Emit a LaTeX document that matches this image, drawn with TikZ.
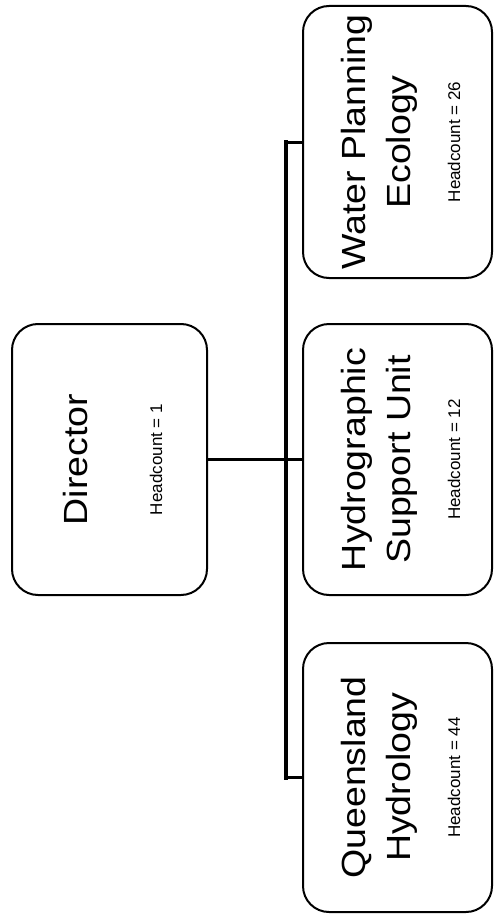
\documentclass[tikz,border=0pt]{standalone}
\usepackage{fontspec}
\setmainfont{Liberation Sans}
\usepackage{graphicx}
\newcommand{\wide}[1]{\scalebox{1.12}[1]{#1}}
\begin{document}
\begin{tikzpicture}[x=1pt,y=-1pt,
  box/.style={draw=black, line width=2pt, rounded corners=26pt, fill=white, inner sep=0pt},
  big/.style={rotate=90, anchor=base, inner sep=0pt, font=\fontsize{33.5}{40}\selectfont},
  small/.style={rotate=90, anchor=base, inner sep=0pt, font=\fontsize{17}{20}\selectfont},
  link/.style={draw=black, line width=3pt},
  spineline/.style={draw=black, line width=4pt, line cap=rect}]
\useasboundingbox (0,0) rectangle (494,915);
% boxes
\node[box, minimum width=195pt, minimum height=271pt] (dir) at (109.5,459.5) {};
\node[box, minimum width=189pt, minimum height=272pt] (wp) at (397.5,142) {};
\node[box, minimum width=189pt, minimum height=271pt] (hyd) at (397.5,459.5) {};
\node[box, minimum width=189pt, minimum height=269pt] (ql) at (397.5,777.5) {};
% texts
\node[big] (dirt) at (87,459.5) {\wide{Director}};
\node[small] (dirh) at (162,459.5) {Headcount = 1};
\node[big] (wpt1) at (365,142) {\wide{Water Planning}};
\node[big] (wpt2) at (410,142) {\wide{Ecology}};
\node[small] (wph) at (460,142) {Headcount = 26};
\node[big] (hydt1) at (365,459.5) {\wide{Hydrographic}};
\node[big] (hydt2) at (410,459.5) {\wide{Support Unit}};
\node[small] (hydh) at (460,459.5) {Headcount = 12};
\node[big] (qlt1) at (365,777.5) {\wide{Queensland}};
\node[big] (qlt2) at (410,777.5) {\wide{Hydrology}};
\node[small] (qlh) at (460,777.5) {Headcount = 44};
% connectors
\coordinate (spine) at (286,0);
\draw[spineline] (wp.west -| spine) -- (ql.west -| spine);
\draw[link] (dir.east) -- (hyd.west);
\draw[link] (wp.west -| spine) -- (wp.west);
\draw[link] (ql.west -| spine) -- (ql.west);
\end{tikzpicture}
\end{document}
